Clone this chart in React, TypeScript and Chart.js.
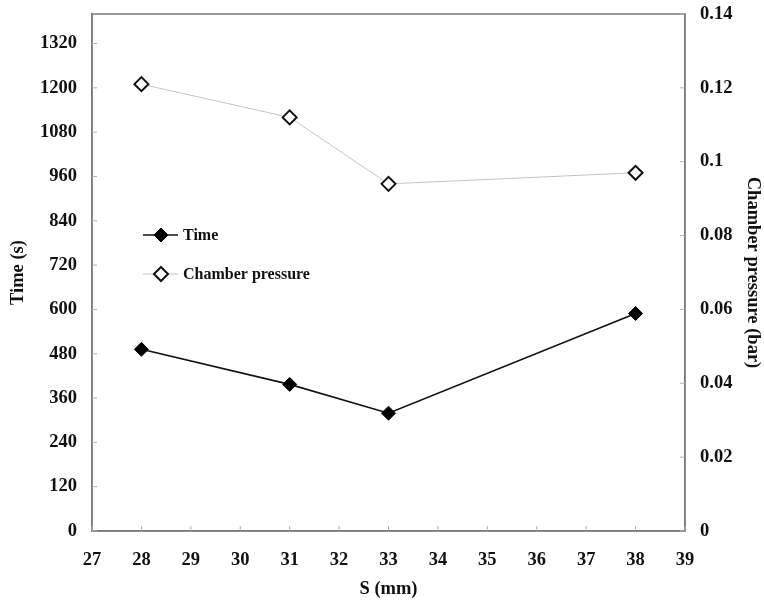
import React, { useEffect, useRef } from "react";
import { Chart, registerables } from "chart.js";

Chart.register(...registerables);

const sValues = [28, 31, 33, 38];
const timeValues = [492, 397, 319, 589];
const pressureValues = [0.121, 0.112, 0.094, 0.097];
const xTicks = [27, 28, 29, 30, 31, 32, 33, 34, 35, 36, 37, 38, 39];
const timeTicks = [0, 120, 240, 360, 480, 600, 720, 840, 960, 1080, 1200, 1320];
const pressureTicks = [0, 0.02, 0.04, 0.06, 0.08, 0.1, 0.12, 0.14];
const seriesNames = ["Time", "Chamber pressure"];
const axisTitles = { x: "S (mm)", y: "Time (s)", y2: "Chamber pressure (bar)" };

const FONT = '"Liberation Serif", "Times New Roman", serif';
const AXIS_COLOR = "#7a7a7a";

const frameAndTicks = {
  id: "frameAndTicks",
  afterDraw(chart: any) {
    const { ctx, chartArea: a, scales } = chart;
    ctx.save();
    ctx.strokeStyle = AXIS_COLOR;
    ctx.lineWidth = 1.5;
    ctx.strokeRect(a.left, a.top, a.right - a.left, a.bottom - a.top);
    ctx.lineWidth = 1;
    ctx.strokeStyle = "#b0b0b0";
    const len = 5;
    ctx.beginPath();
    scales.x.ticks.forEach((t: any) => {
      const px = scales.x.getPixelForValue(t.value);
      ctx.moveTo(px, a.bottom);
      ctx.lineTo(px, a.bottom - len);
    });
    scales.y.ticks.forEach((t: any) => {
      const py = scales.y.getPixelForValue(t.value);
      ctx.moveTo(a.left, py);
      ctx.lineTo(a.left + len, py);
    });
    scales.y2.ticks.forEach((t: any) => {
      const py = scales.y2.getPixelForValue(t.value);
      ctx.moveTo(a.right, py);
      ctx.lineTo(a.right - len, py);
    });
    ctx.stroke();
    ctx.restore();
  },
};

const insideLegend = {
  id: "insideLegend",
  afterDatasetsDraw(chart: any) {
    const { ctx, chartArea: a } = chart;
    const x0 = a.left + 51;
    const y0 = a.top + 221;
    const rowGap = 39;
    ctx.save();
    chart.data.datasets.forEach((ds: any, i: number) => {
      const y = y0 + i * rowGap;
      ctx.strokeStyle = ds.borderColor;
      ctx.lineWidth = ds.borderWidth;
      ctx.beginPath();
      ctx.moveTo(x0, y);
      ctx.lineTo(x0 + 35, y);
      ctx.stroke();
      const r = ds.pointRadius;
      const cx = x0 + 18;
      ctx.beginPath();
      ctx.moveTo(cx, y - r);
      ctx.lineTo(cx + r, y);
      ctx.lineTo(cx, y + r);
      ctx.lineTo(cx - r, y);
      ctx.closePath();
      ctx.fillStyle = ds.pointBackgroundColor;
      ctx.fill();
      ctx.strokeStyle = ds.pointBorderColor;
      ctx.lineWidth = ds.pointBorderWidth;
      ctx.stroke();
      ctx.fillStyle = "#111";
      ctx.font = `bold 16px ${FONT}`;
      ctx.textAlign = "left";
      ctx.textBaseline = "middle";
      ctx.fillText(ds.label, x0 + 40, y + 1);
    });
    ctx.restore();
  },
};

function useTicks(values: number[]) {
  return (scale: any) => {
    scale.ticks = values.map((v) => ({ value: v }));
  };
}

export default function App() {
  const ref = useRef<HTMLCanvasElement | null>(null);
  useEffect(() => {
    if (!ref.current) return;
    const tickFont = { family: FONT, size: 18.5, weight: "bold" as const };
    const titleFont = { family: FONT, size: 18.5, weight: "bold" as const };
    const chart = new Chart(ref.current, {
      type: "line",
      data: {
        datasets: [
          {
            label: seriesNames[0],
            data: sValues.map((s, i) => ({ x: s, y: timeValues[i] })),
            yAxisID: "y",
            borderColor: "#111",
            borderWidth: 1.6,
            pointStyle: "rectRot",
            pointRadius: 7,
            pointBackgroundColor: "#000",
            pointBorderColor: "#000",
            pointBorderWidth: 1,
            tension: 0,
          },
          {
            label: seriesNames[1],
            data: sValues.map((s, i) => ({ x: s, y: pressureValues[i] })),
            yAxisID: "y2",
            borderColor: "#c4c4c4",
            borderWidth: 1,
            pointStyle: "rectRot",
            pointRadius: 7,
            pointBackgroundColor: "#fff",
            pointBorderColor: "#111",
            pointBorderWidth: 2,
            tension: 0,
          },
        ],
      },
      options: {
        animation: false,
        responsive: true,
        maintainAspectRatio: false,
        layout: { padding: { top: 14, left: 0, right: 0, bottom: 0 } },
        plugins: { legend: { display: false }, tooltip: { enabled: false } },
        scales: {
          x: {
            type: "linear",
            min: 27,
            max: 39,
            afterBuildTicks: useTicks(xTicks),
            afterFit: (s: any) => {
              s.height = 69;
              s.paddingLeft = 0;
              s.paddingRight = 0;
            },
            grid: { display: false, drawTicks: false },
            border: { display: true, color: AXIS_COLOR, width: 1.5 },
            ticks: { font: tickFont, color: "#111", padding: 18, callback: (v: any) => String(v) },
            title: { display: true, text: axisTitles.x, font: titleFont, color: "#111", padding: { top: 0, bottom: 0 } },
          },
          y: {
            type: "linear",
            position: "left",
            min: 0,
            max: 1400,
            afterBuildTicks: useTicks(timeTicks),
            afterFit: (s: any) => {
              s.width = 92;
              s.paddingTop = 0;
              s.paddingBottom = 0;
            },
            grid: { display: false, drawTicks: false },
            border: { display: true, color: AXIS_COLOR, width: 1.5 },
            ticks: { font: tickFont, color: "#111", padding: 15, callback: (v: any) => String(v) },
            title: { display: true, text: axisTitles.y, font: titleFont, color: "#111", padding: { top: 7, bottom: 0 } },
          },
          y2: {
            type: "linear",
            position: "right",
            min: 0,
            max: 0.14,
            afterBuildTicks: useTicks(pressureTicks),
            afterFit: (s: any) => {
              s.width = 79;
              s.paddingTop = 0;
              s.paddingBottom = 0;
            },
            grid: { display: false, drawTicks: false },
            border: { display: true, color: AXIS_COLOR, width: 1.5 },
            ticks: {
              font: tickFont,
              color: "#111",
              padding: 15,
              callback: (v: any) => String(Number(Number(v).toFixed(2))),
            },
            title: { display: true, text: axisTitles.y2, font: titleFont, color: "#111", padding: { top: 0, bottom: 0 } },
          },
        },
      },
      plugins: [frameAndTicks, insideLegend],
    });
    return () => chart.destroy();
  }, []);
  return (
    <div style={{ position: "fixed", left: 0, top: 0, width: 764, height: 600, background: "#fff" }}>
      <canvas ref={ref} />
    </div>
  );
}
